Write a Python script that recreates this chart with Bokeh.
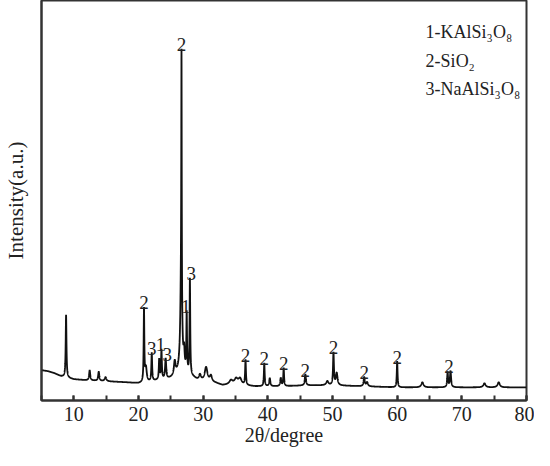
import numpy as np
from bokeh.plotting import figure
from bokeh.models import ColumnDataSource, SingleIntervalTicker, FixedTicker, Range1d
from bokeh.core.properties import value
from bokeh.embed import file_html
from bokeh.resources import INLINE

# ---- data (intensity in arbitrary units) ----
base_x = [5, 6, 7, 8, 10, 12, 15, 18, 20, 21.5, 23, 24.5, 25.5, 26.3, 27.2, 28.6, 29.3, 31, 32, 33, 35, 36, 38, 42, 46, 50, 55, 60, 65, 70, 75, 80]
base_y = [30, 29, 27, 24, 21, 20, 19, 18, 17, 18, 20, 21, 23, 28, 26, 22, 19, 18, 17, 15, 16, 15, 14, 14, 15, 15, 14, 13, 13, 13, 13, 13]

peak_pos = [8.8, 12.45, 13.85, 14.9, 20.85, 21.15, 22.05, 23.2, 23.55, 24.2, 25.6, 26.6, 26.65, 27.05, 27.45, 27.95,
            29.5, 30.45, 31.2, 34.3, 35.1, 35.7, 36.55, 39.45, 40.3, 42.0, 42.45, 45.8, 49.2, 50.15, 50.65, 54.9, 55.35,
            60.0, 63.9, 67.8, 68.25, 73.5, 75.7]
peak_amp = [62, 10, 9, 4, 72, 14, 28, 20, 29, 20, 14, 90, 238, 18, 58, 95,
            6, 14, 6, 4, 5, 6, 25, 23, 8, 8, 18, 11, 4, 32, 12, 9, 4,
            26, 5, 15, 16, 4, 5]
peak_hw = [0.07, 0.1, 0.1, 0.15, 0.06, 0.15, 0.07, 0.07, 0.07, 0.1, 0.15, 0.15, 0.04, 0.1, 0.06, 0.06,
           0.2, 0.25, 0.2, 0.3, 0.3, 0.3, 0.07, 0.07, 0.1, 0.1, 0.07, 0.1, 0.2, 0.08, 0.15, 0.1, 0.15,
           0.07, 0.2, 0.08, 0.1, 0.2, 0.2]

# peak each label belongs to, and where its text sits
label_peak = [20.85, 22.05, 23.55, 24.2, 26.65, 27.45, 27.95, 36.55, 39.45, 42.45, 45.8, 50.15, 54.9, 60.0, 68.0]
label_x = [20.85, 22.05, 23.4, 24.45, 26.65, 27.3, 28.15, 36.55, 39.45, 42.45, 45.8, 50.15, 54.9, 60.0, 68.0]
label_text = ["2", "3", "1", "3", "2", "1", "3", "2", "2", "2", "2", "2", "2", "2", "2"]

legend_lines = ["1-KAlSi\u2083O\u2088", "2-SiO\u2082", "3-NaAlSi\u2083O\u2088"]
legend_y = [365, 336, 308]

x_ticks_interval = 10

# ---- build the pattern from the listed peaks ----
x = np.round(np.arange(5, 80.0001, 0.01), 3)
y = np.interp(x, base_x, base_y)
for c, a, w in zip(peak_pos, peak_amp, peak_hw):
    y = y + a / (1.0 + ((x - c) / w) ** 2)

src = ColumnDataSource(data=dict(x=x, y=y))

lab_y = []
for lp in label_peak:
    m = (x > lp - 0.3) & (x < lp + 0.3)
    lab_y.append(float(y[m].max()) + 4)
lab_src = ColumnDataSource(data=dict(x=label_x, y=lab_y, t=label_text))

leg_src = ColumnDataSource(data=dict(x=[64.4] * 3, y=legend_y, t=legend_lines))

FONT = "Liberation Serif"

p = figure(width=534, height=450, output_backend="svg", toolbar_location=None,
           x_range=Range1d(5, 80), y_range=Range1d(0, 396),
           min_border_left=33, min_border_right=8, min_border_top=0, min_border_bottom=50)
p.background_fill_color = "white"
p.border_fill_color = "white"
p.outline_line_color = "#333333"
p.outline_line_width = 2
p.xgrid.visible = False
p.ygrid.visible = False

p.line("x", "y", source=src, line_color="#111111", line_width=1.8)

p.text("x", "y", text="t", source=lab_src, text_font=value(FONT), text_font_size="19px",
       text_align="center", text_baseline="alphabetic", text_color="#222222")
p.text("x", "y", text="t", source=leg_src, text_font=value(FONT), text_font_size="18px",
       text_align="left", text_baseline="alphabetic", text_color="#222222")

xa = p.xaxis[0]
xa.ticker = SingleIntervalTicker(interval=x_ticks_interval, num_minor_ticks=2)
xa.major_tick_in = 5
xa.major_tick_out = 0
xa.minor_tick_in = 5
xa.minor_tick_out = 0
xa.major_tick_line_color = "#333333"
xa.minor_tick_line_color = "#333333"
xa.major_tick_line_width = 2
xa.minor_tick_line_width = 2
xa.axis_line_color = "#333333"
xa.axis_line_width = 2
xa.major_label_text_font = FONT
xa.major_label_text_font_size = "20px"
xa.major_label_text_color = "#222222"
xa.major_label_standoff = 6
xa.axis_label = "2\u03b8/degree"
xa.axis_label_text_font = FONT
xa.axis_label_text_font_size = "20px"
xa.axis_label_text_font_style = "normal"
xa.axis_label_text_color = "#222222"
xa.axis_label_standoff = 0

ya = p.yaxis[0]
ya.ticker = FixedTicker(ticks=[])
ya.major_tick_line_color = None
ya.minor_tick_line_color = None
ya.major_label_standoff = 0
ya.axis_line_color = "#333333"
ya.axis_line_width = 2
ya.axis_label = "Intensity(a.u.)"
ya.axis_label_text_font = FONT
ya.axis_label_text_font_size = "21px"
ya.axis_label_text_font_style = "normal"
ya.axis_label_text_color = "#222222"
ya.axis_label_standoff = 14

open("out.html", "w").write(file_html(p, INLINE))
